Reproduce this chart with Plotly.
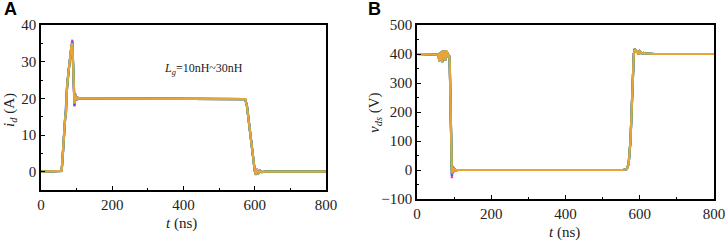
import plotly.graph_objects as go

# ---------------- data ----------------
t_a = [0, 55, 58, 62, 66, 68, 70, 73, 77, 81, 85, 88, 90, 92, 94, 96, 98, 100, 103, 106,
       110, 120, 560, 573, 578, 583, 588, 593, 597, 600, 603, 606, 610, 615, 620, 630, 800]

id_magenta = [0, 0, 0.2, 6, 13, 15, 16, 23, 27, 31, 34.5, 36, 29, 21, 17.8, 21.3, 19.3, 20.5, 19.7, 20.1,
              20, 20, 20, 19.8, 18, 14, 9, 5, 2, 0.2, -0.9, 0.8, -0.6, 0.3, -0.1, 0, 0]
id_blue = [0, 0, 0.2, 5.5, 12.5, 14.5, 16, 22.5, 27, 31, 34, 35.5, 29, 21.5, 18, 21.2, 19.4, 20.4, 19.8, 20.1,
           20, 20, 20, 19.8, 18, 14, 9, 5, 2, 0.2, -0.8, 0.7, -0.5, 0.3, -0.1, 0, 0]
id_green = [0, 0, 0.2, 6, 13, 15, 16, 23, 27, 31, 33.5, 34.8, 28, 22.5, 19, 20.8, 19.6, 20.3, 19.9, 20.1,
            20, 20, 20, 19.8, 18, 14, 9, 5, 2, 0.3, -0.6, 0.5, -0.4, 0.2, -0.1, 0, 0]
id_cyan = [0, 0, 0.2, 6, 13, 15, 16, 23, 27, 31, 33.8, 35.2, 28.5, 22, 18.7, 21, 19.6, 20.3, 19.9, 20.0,
           20, 20, 20, 19.8, 18, 14, 9, 5, 2, 0.3, -0.7, 0.6, -0.4, 0.2, -0.1, 0, 0]
id_orange = [0, 0, 0.2, 6, 13, 15, 16, 23, 27, 31, 34, 35, 28, 22, 18.5, 21, 19.5, 20.4, 19.8, 20.1,
             20, 20, 20, 19.8, 18, 14, 9, 5, 2, 0.3, -0.8, 0.7, -0.5, 0.3, -0.1, 0, 0]

t_b = [0, 55, 58, 60, 62, 64, 66, 68, 70, 72, 74, 76, 78, 80, 82, 84, 86, 88, 90, 92,
       94, 96, 98, 101, 105, 110, 120, 555, 565, 570, 575, 578, 581, 584, 587, 590, 593, 596, 600, 605,
       610, 620, 640, 800]

vds_magenta = [400, 400, 398, 375, 405, 380, 410, 372, 412, 385, 408, 378, 413, 388, 406, 392, 398, 380, 250, 60,
               -28, 12, -8, 4, -1, 0, 0, 0, 3, 20, 100, 220, 340, 400, 418, 405, 413, 398, 409, 401,
               404, 401, 400, 400]
vds_blue = [400, 400, 398, 375, 405, 380, 410, 372, 412, 385, 408, 378, 413, 388, 406, 392, 398, 380, 250, 60,
            -20, 10, -6, 3, -1, 0, 0, 0, 3, 20, 100, 220, 340, 400, 418, 405, 413, 398, 409, 401,
            404, 401, 400, 400]
vds_green = [400, 400, 398, 375, 405, 380, 410, 372, 412, 385, 408, 378, 413, 388, 406, 392, 398, 380, 250, 60,
             -8, 14, -4, 3, -1, 0, 0, 0, 3, 20, 100, 220, 340, 400, 418, 405, 413, 398, 409, 401,
             404, 401, 400, 400]
vds_cyan = [400, 400, 398, 375, 405, 380, 410, 372, 412, 385, 408, 378, 413, 388, 406, 392, 398, 380, 250, 60,
            -15, 9, -5, 3, -1, 0, 0, 0, 3, 20, 100, 220, 340, 400, 418, 405, 413, 398, 409, 401,
            404, 401, 400, 400]
vds_orange = [400, 400, 398, 375, 405, 380, 410, 372, 412, 385, 408, 378, 413, 388, 406, 392, 398, 380, 250, 60,
              -10, 8, -5, 3, -1, 0, 0, 0, 3, 20, 100, 220, 340, 400, 418, 405, 413, 398, 409, 401,
              404, 401, 400, 400]

x_ticks = [0, 200, 400, 600, 800]
ya_ticks = [0, 10, 20, 30, 40]
yb_ticks = [-100, 0, 100, 200, 300, 400, 500]

colors = ["#e040c0", "#3a5ce0", "#2aa050", "#22b5c8", "#e8a535"]

# ---------------- figure ----------------
fig = go.Figure()
series_a = [id_magenta, id_blue, id_green, id_cyan, id_orange]
series_b = [vds_magenta, vds_blue, vds_green, vds_cyan, vds_orange]
for ys, c in zip(series_a, colors):
    fig.add_trace(go.Scatter(x=t_a, y=ys, mode="lines", line=dict(color=c, width=2.2),
                             xaxis="x", yaxis="y", showlegend=False))
for ys, c in zip(series_b, colors):
    fig.add_trace(go.Scatter(x=t_b, y=ys, mode="lines", line=dict(color=c, width=2.2),
                             xaxis="x2", yaxis="y2", showlegend=False))

serif = "Liberation Serif, Times New Roman, serif"
tfont = dict(family=serif, size=15, color="#222")
common = dict(showgrid=False, zeroline=False, showline=True, linecolor="black", linewidth=1.5,
              mirror=True, ticks="inside", ticklen=4, tickcolor="black", tickwidth=1.2,
              tickfont=tfont, automargin=False)

W, H = 726, 241
def px(x):
    return x / W
def py(y):
    return 1 - y / H

def label(text, x, y, font, angle=0):
    return dict(text=text, x=px(x), y=py(y), xref="paper", yref="paper",
                xanchor="center", yanchor="middle", showarrow=False,
                textangle=angle, font=font)

fig.update_layout(
    width=W, height=H,
    margin=dict(l=0, r=0, t=0, b=0, autoexpand=False),
    paper_bgcolor="white", plot_bgcolor="white",
    xaxis=dict(domain=[px(41), px(326)], anchor="y", range=[0, 800], tickvals=x_ticks,
               minor=dict(ticks="inside", ticklen=2, dtick=100, tickcolor="black"), **common),
    yaxis=dict(domain=[py(190), py(25)], anchor="x", range=[-5, 40], tickvals=ya_ticks,
               minor=dict(ticks="inside", ticklen=2, dtick=5, tickcolor="black"), **common),
    xaxis2=dict(domain=[px(417), px(714)], anchor="y2", range=[0, 800], tickvals=x_ticks,
                minor=dict(ticks="inside", ticklen=2, dtick=100, tickcolor="black"), **common),
    yaxis2=dict(domain=[py(199), py(25)], anchor="x2", range=[-100, 500], tickvals=yb_ticks,
                minor=dict(ticks="inside", ticklen=2, dtick=50, tickcolor="black"), **common),
    annotations=[
        label("<b>A</b>", 10, 9, dict(family="Liberation Sans", size=18, color="black")),
        label("<b>B</b>", 375, 9, dict(family="Liberation Sans", size=18, color="black")),
        dict(text="<i>L</i><sub><i>g</i></sub>=10nH~30nH", x=455, y=28, xref="x", yref="y",
             xanchor="center", yanchor="middle",
             showarrow=False, font=dict(family=serif, size=12, color="#222")),
        # axis titles
        label("<i>t</i> (ns)", 182, 223, tfont),
        label("<i>t</i> (ns)", 564, 232, tfont),
        label("<i>i</i><sub><i>d</i></sub> (A)", 10, 110, tfont, -90),
        label("<i>v</i><sub><i>ds</i></sub> (V)", 375, 112, tfont, -90),
    ],
)

fig.write_html("out.html", post_script="document.body.style.margin='0';",
               config={"displayModeBar": False})
